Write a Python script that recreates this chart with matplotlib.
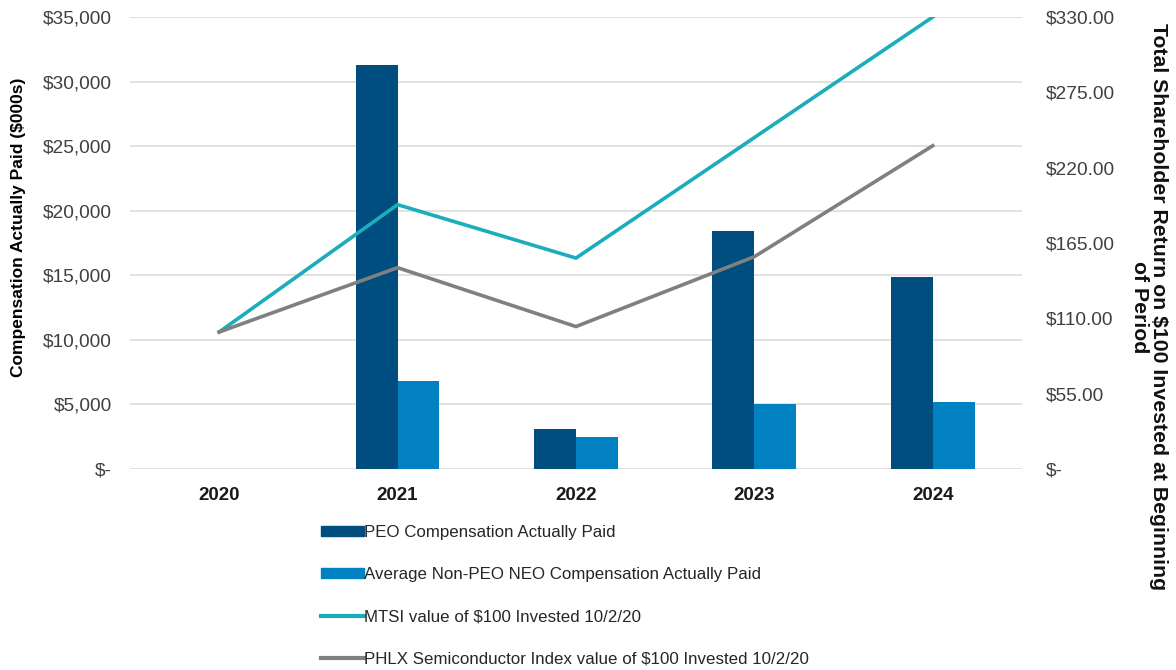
import matplotlib
matplotlib.use('Agg')
import matplotlib.pyplot as plt
import numpy as np
from matplotlib.lines import Line2D
from matplotlib.patches import Patch

plt.rcParams['font.family'] = ['Liberation Sans', 'DejaVu Sans']

years = ['2020', '2021', '2022', '2023', '2024']
peo_cap = [0, 31300, 3100, 18400, 14900]
neo_cap = [0, 6800, 2500, 5000, 5200]
mtsi_tsr = [100, 193, 154, 242, 330]
phlx_tsr = [100, 147, 104, 155, 236]

left_ticks = [0, 5000, 10000, 15000, 20000, 25000, 30000, 35000]
right_ticks = [0, 55, 110, 165, 220, 275, 330]

c_peo = '#004d7f'
c_neo = '#0281c2'
c_mtsi = '#1badba'
c_phlx = '#808080'

fig = plt.figure(figsize=(11.76, 6.7), dpi=100)
ax = fig.add_axes([0.1105, 0.30, 0.7585, 0.6746])
ax2 = ax.twinx()

x = np.arange(len(years))
w = 0.235
ax.bar(x - w / 2, peo_cap, w, color=c_peo, zorder=2)
ax.bar(x + w / 2, neo_cap, w, color=c_neo, zorder=2)

ax2.plot(x, mtsi_tsr, color=c_mtsi, lw=2.6, solid_joinstyle='miter')
ax2.plot(x, phlx_tsr, color=c_phlx, lw=2.6, solid_joinstyle='miter')

ax.set_xlim(-0.5, 4.5)
ax.set_ylim(0, 35000)
ax2.set_ylim(0, 330)
ax.set_yticks(left_ticks)
ax.set_yticklabels(['$-' if v == 0 else '${:,}'.format(v) for v in left_ticks])
ax2.set_yticks(right_ticks)
ax2.set_yticklabels(['$-' if v == 0 else '${:.2f}'.format(v) for v in right_ticks])
ax.set_xticks(x)
ax.set_xticklabels(years, fontweight='bold', fontsize=13.5, color='#1a1a1a')

ax.yaxis.grid(True, color='#d9d9d9', lw=1.1, zorder=0)
ax.set_axisbelow(True)
for a in (ax, ax2):
    for s in a.spines.values():
        s.set_visible(False)
    a.tick_params(length=0)
ax.tick_params(axis='y', labelsize=13.8, labelcolor='#404040', pad=13)
ax2.tick_params(axis='y', labelsize=13.8, labelcolor='#404040', pad=17)
ax.tick_params(axis='x', pad=13)

fig.text(0.016, 0.66, 'Compensation Actually Paid ($000s)', rotation=90,
         ha='center', va='center', fontsize=12.5, fontweight='bold')
fig.text(0.977, 0.542, 'Total Shareholder Return on $100 Invested at Beginning\nof Period',
         rotation=270, ha='center', va='center', fontsize=15.3, fontweight='bold',
         multialignment='center', linespacing=0.95, color='#111111')

handles = [
    Patch(color=c_peo),
    Patch(color=c_neo),
    Line2D([], [], color=c_mtsi, lw=3),
    Line2D([], [], color=c_phlx, lw=3),
]
labels = [
    'PEO Compensation Actually Paid',
    'Average Non-PEO NEO Compensation Actually Paid',
    'MTSI value of $100 Invested 10/2/20',
    'PHLX Semiconductor Index value of $100 Invested 10/2/20',
]
leg = fig.legend(handles, labels, loc='upper left', bbox_to_anchor=(0.266, 0.229),
                 frameon=False, fontsize=12.2, handlelength=2.5, handleheight=0.5,
                 handletextpad=0.05, labelspacing=1.6, borderpad=0)
for t in leg.get_texts():
    t.set_color('#262626')

fig.savefig('out.png', dpi=100, facecolor='white')
